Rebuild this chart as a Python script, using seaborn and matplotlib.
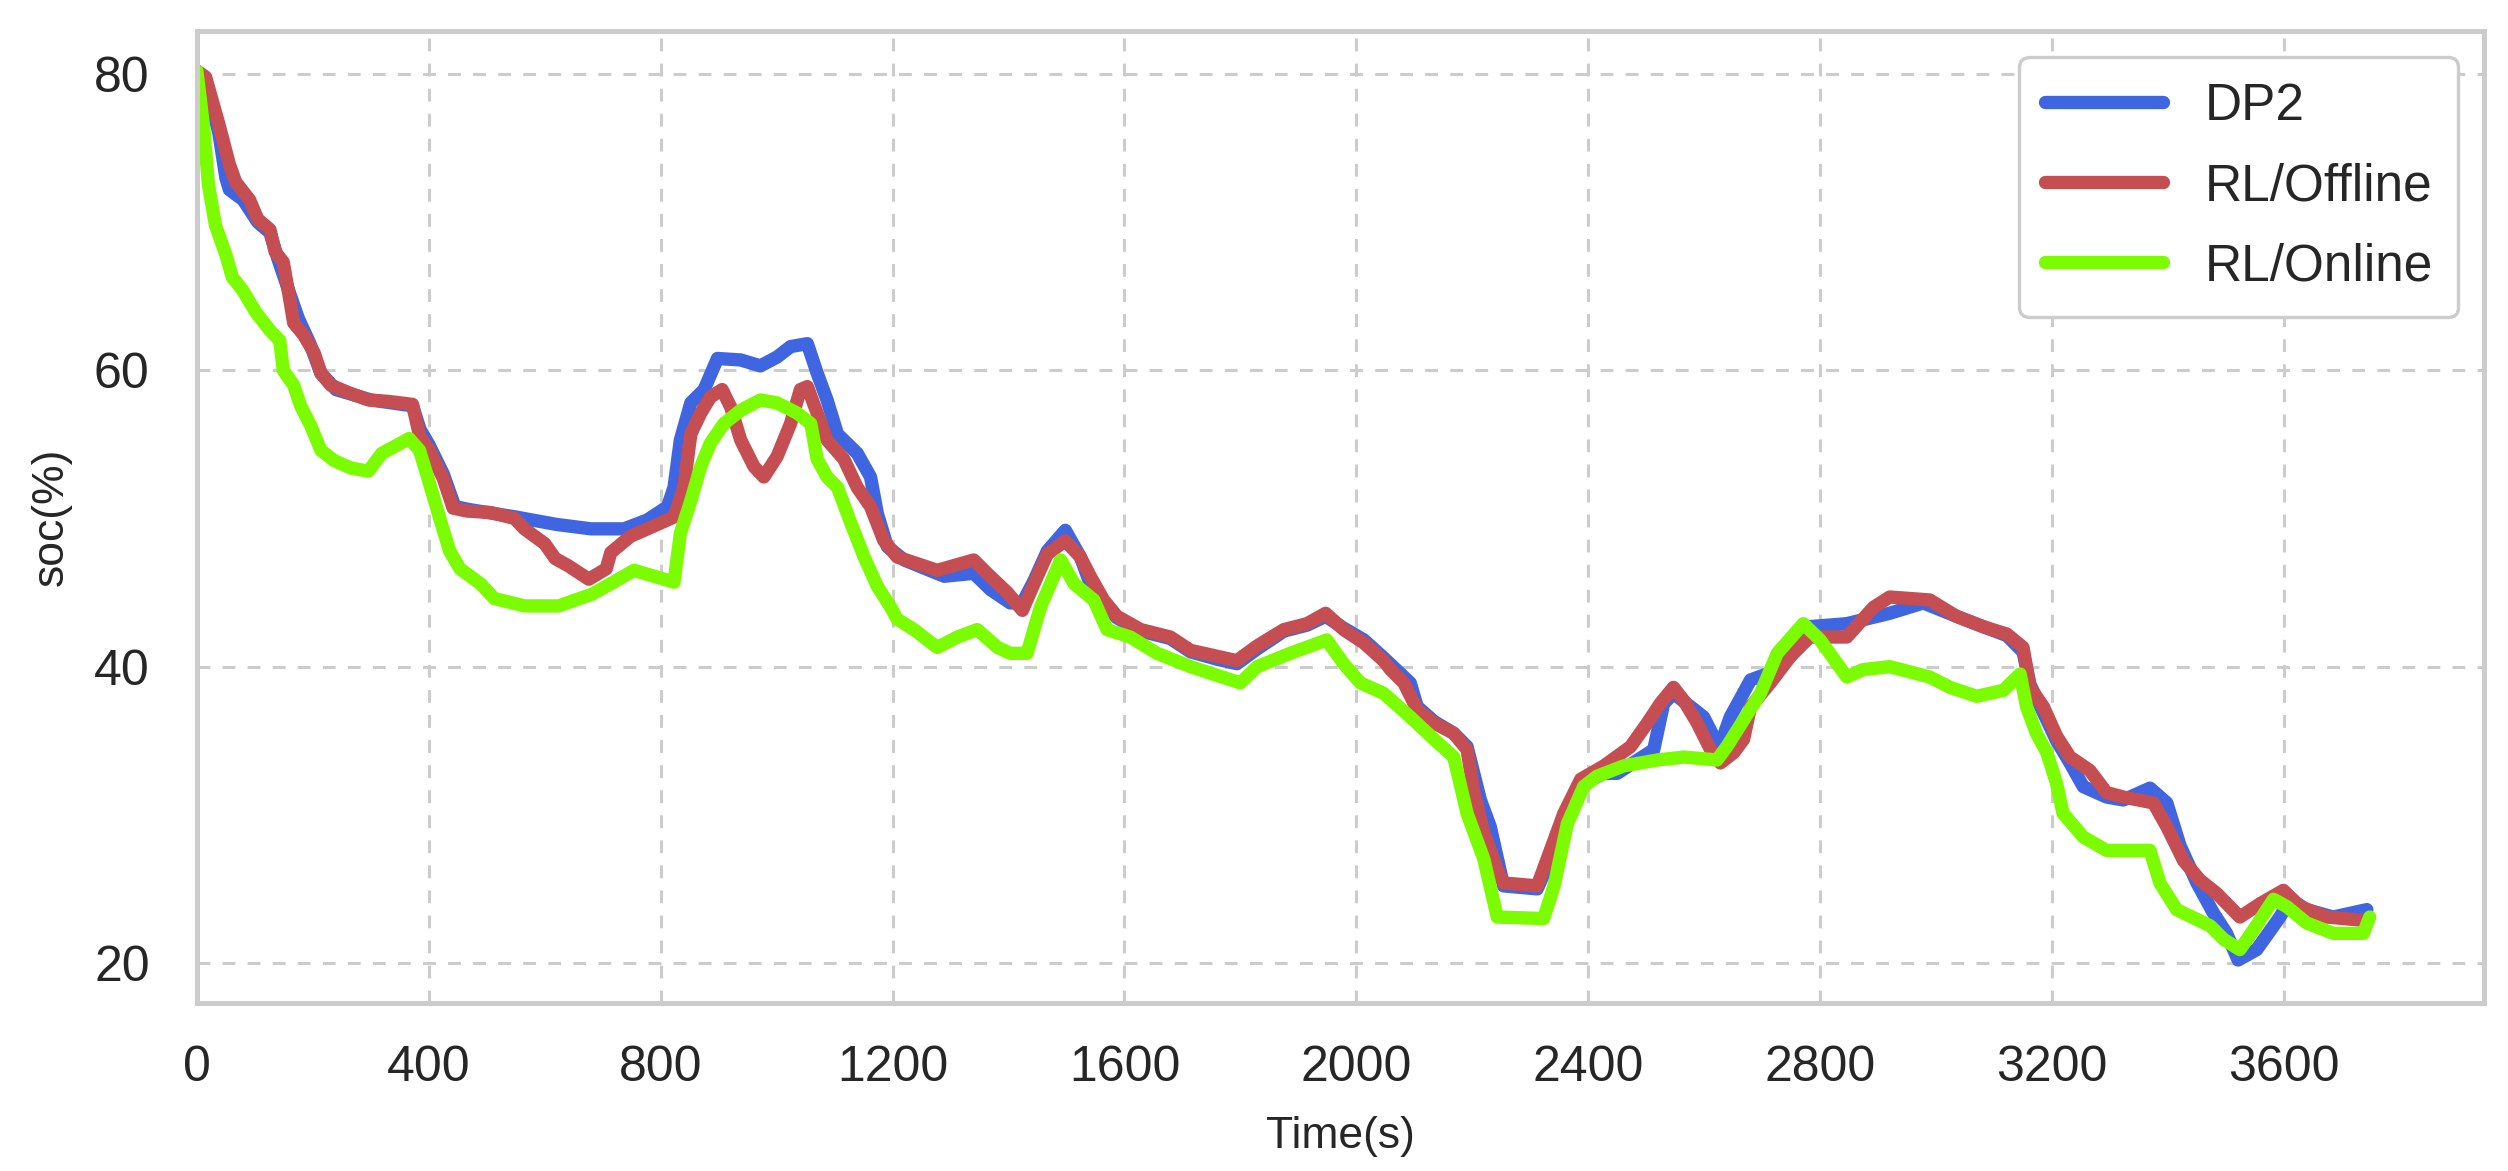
import numpy as np
import pandas as pd
import matplotlib
matplotlib.use('Agg')
import matplotlib.pyplot as plt
import seaborn as sns

# ============================================================
# DATA
# ============================================================

t_dp2 = [0, 15, 38, 50, 56, 80, 105, 126, 140, 160, 175, 195, 214, 240, 300, 372, 385, 400,
         425, 445, 470, 550, 620, 680, 737, 777, 812, 823, 834, 852, 875, 898, 938, 972,
         1001, 1024, 1053, 1070, 1087, 1105, 1139, 1162, 1174, 1191, 1220, 1289, 1340, 1369,
         1403, 1424, 1444, 1467, 1498, 1524, 1541, 1564, 1587, 1628, 1679, 1714, 1760, 1794,
         1829, 1875, 1915, 1947, 1978, 2013, 2047, 2093, 2105, 2134, 2168, 2191, 2214, 2231,
         2254, 2312, 2329, 2358, 2387, 2427, 2450, 2513, 2530, 2547, 2599, 2616, 2625, 2645,
         2680, 2708, 2749, 2782, 2846, 2920, 2978, 3035, 3081, 3122, 3150, 3162, 3185, 3208,
         3231, 3254, 3294, 3323, 3369, 3398, 3421, 3450, 3478, 3501, 3521, 3553, 3593, 3611,
         3639, 3685, 3743]
soc_dp2 = [80.2, 79.5, 76.0, 73.0, 72.2, 71.5, 70.0, 69.3, 67.5, 65.2, 63.5, 61.8, 59.8, 58.7,
           58.0, 57.6, 56.0, 55.0, 53.0, 50.8, 50.6, 50.1, 49.6, 49.3, 49.3, 49.9, 50.8, 52.1,
           55.3, 57.8, 58.7, 60.8, 60.7, 60.3, 60.9, 61.6, 61.8, 59.8, 58.0, 55.7, 54.4, 52.8,
           50.3, 48.1, 47.2, 46.1, 46.3, 45.2, 44.3, 44.3, 45.8, 47.8, 49.2, 47.4, 45.6, 44.2,
           43.3, 42.4, 41.9, 41.0, 40.5, 40.2, 41.2, 42.4, 42.8, 43.4, 42.6, 41.8, 40.6, 38.9,
           37.3, 36.3, 35.5, 34.6, 31.0, 29.2, 25.2, 25.0, 26.5, 29.6, 32.0, 32.8, 32.8, 34.4,
           37.5, 38.2, 36.6, 35.3, 34.4, 36.6, 39.1, 39.5, 40.7, 42.7, 42.9, 43.6, 44.3, 43.4,
           42.7, 42.1, 41.0, 38.8, 36.9, 35.0, 33.5, 31.9, 31.2, 31.0, 31.8, 30.8, 27.9, 25.4,
           23.4, 22.0, 20.2, 20.9, 23.1, 24.3, 23.6, 23.1, 23.6]

t_off = [0, 15, 38, 56, 67, 91, 105, 126, 135, 149, 161, 167, 184, 202, 214, 231, 261, 296,
         331, 372, 384, 401, 425, 442, 466, 507, 548, 565, 600, 618, 641, 676, 706, 714, 748,
         783, 823, 840, 852, 869, 886, 906, 921, 938, 961, 978, 1001, 1024, 1041, 1053, 1070,
         1087, 1116, 1139, 1162, 1185, 1208, 1277, 1340, 1363, 1398, 1424, 1444, 1467, 1498,
         1524, 1541, 1564, 1587, 1628, 1679, 1714, 1760, 1794, 1829, 1875, 1915, 1947, 1978,
         2013, 2047, 2059, 2082, 2105, 2134, 2168, 2191, 2203, 2220, 2243, 2254, 2312, 2329,
         2358, 2387, 2427, 2473, 2502, 2524, 2547, 2565, 2588, 2611, 2628, 2651, 2668, 2680,
         2714, 2749, 2782, 2846, 2892, 2920, 2989, 3035, 3081, 3122, 3150, 3162, 3185, 3208,
         3231, 3265, 3294, 3323, 3375, 3398, 3427, 3455, 3484, 3524, 3559, 3599, 3628, 3674,
         3731]
soc_off = [80.2, 79.8, 76.6, 73.9, 72.7, 71.5, 70.2, 69.5, 68.0, 67.3, 64.6, 63.2, 62.4, 61.2,
           59.8, 59.0, 58.5, 58.0, 57.9, 57.7, 55.6, 54.6, 52.7, 50.7, 50.5, 50.4, 50.0, 49.3,
           48.3, 47.3, 46.8, 45.9, 46.6, 47.7, 48.8, 49.4, 50.1, 52.1, 55.7, 57.1, 58.2, 58.7,
           57.5, 55.3, 53.5, 52.8, 54.2, 56.4, 58.7, 58.9, 57.1, 55.3, 54.0, 52.1, 50.8, 48.5,
           47.4, 46.5, 47.2, 46.3, 45.0, 43.8, 45.6, 47.6, 48.5, 47.4, 46.1, 44.5, 43.4, 42.5,
           42.0, 41.1, 40.7, 40.4, 41.4, 42.5, 42.9, 43.6, 42.5, 41.6, 40.4, 39.8, 38.9, 37.1,
           36.2, 35.5, 34.4, 31.5, 28.8, 26.3, 25.4, 25.2, 27.0, 30.1, 32.4, 33.3, 34.6, 36.2,
           37.5, 38.6, 37.7, 36.2, 34.4, 33.5, 34.2, 35.1, 37.3, 38.9, 40.7, 42.0, 42.0, 44.0,
           44.7, 44.5, 43.4, 42.7, 42.2, 41.3, 38.6, 37.3, 35.3, 33.9, 33.0, 31.5, 31.2, 30.8,
           29.2, 26.9, 25.6, 24.7, 23.1, 24.0, 24.9, 23.8, 23.1, 22.9]

t_on = [0, 12, 20, 32, 50, 61, 79, 102, 126, 143, 149, 167, 179, 196, 214, 237, 266, 296,
        319, 343, 366, 384, 401, 419, 436, 454, 489, 513, 565, 624, 682, 714, 754, 789, 823,
        834, 852, 869, 886, 909, 938, 972, 1001, 1036, 1059, 1070, 1087, 1105, 1128, 1151,
        1174, 1197, 1208, 1237, 1277, 1312, 1346, 1381, 1403, 1432, 1455, 1490, 1513, 1547,
        1570, 1610, 1656, 1714, 1800, 1829, 1886, 1949, 1978, 2007, 2047, 2093, 2134, 2168,
        2191, 2220, 2243, 2323, 2341, 2364, 2392, 2415, 2461, 2519, 2565, 2622, 2639, 2668,
        2697, 2726, 2771, 2800, 2846, 2874, 2920, 2989, 3024, 3070, 3116, 3145, 3156, 3173,
        3191, 3208, 3219, 3254, 3294, 3369, 3386, 3415, 3473, 3496, 3524, 3547, 3582, 3605,
        3639, 3685, 3737, 3748]
soc_on = [80.2, 76.3, 72.5, 69.8, 67.8, 66.3, 65.4, 63.9, 62.7, 62.0, 60.0, 59.0, 57.6, 56.3,
          54.6, 53.9, 53.4, 53.2, 54.4, 54.9, 55.4, 54.6, 52.4, 50.0, 47.8, 46.6, 45.6, 44.6,
          44.1, 44.1, 44.9, 45.6, 46.5, 46.1, 45.7, 49.0, 51.2, 53.5, 55.1, 56.4, 57.3, 58.0,
          57.8, 57.1, 56.4, 54.0, 52.8, 52.1, 49.7, 47.4, 45.4, 44.0, 43.2, 42.5, 41.3, 42.0,
          42.5, 41.3, 40.9, 40.9, 44.0, 47.2, 45.6, 44.5, 42.5, 42.0, 40.9, 40.0, 38.9, 40.0,
          40.9, 41.8, 40.2, 38.9, 38.2, 36.6, 35.1, 33.9, 30.1, 27.0, 23.1, 23.0, 25.2, 29.4,
          31.9, 32.6, 33.3, 33.7, 33.9, 33.7, 34.6, 36.4, 38.2, 40.9, 42.9, 41.8, 39.3, 39.8,
          40.0, 39.3, 38.6, 38.0, 38.4, 39.5, 37.3, 35.5, 34.2, 32.1, 30.1, 28.5, 27.6, 27.6,
          25.4, 23.6, 22.5, 21.6, 20.9, 22.2, 24.3, 23.8, 22.7, 22.0, 22.0, 23.1]

labels = ['DP2', 'RL/Offline', 'RL/Online']
colors = ['#3f66e0', '#c44e52', '#7cfc00']

# ============================================================
# STYLE
# ============================================================

sns.set_theme(style='whitegrid')
plt.rcParams['font.family'] = ['Liberation Sans', 'DejaVu Sans']
plt.rcParams['axes.edgecolor'] = '#cccccc'
plt.rcParams['axes.linewidth'] = 1.8

fig, ax = plt.subplots(figsize=(12.54, 5.855), dpi=200)
fig.subplots_adjust(left=0.0785, right=0.9904, bottom=0.1435, top=0.9735)

# ============================================================
# PLOT
# ============================================================

series = [(t_dp2, soc_dp2), (t_off, soc_off), (t_on, soc_on)]
for (t, s), lab, col in zip(series, labels, colors):
    df = pd.DataFrame({'Time': t, 'soc': s})
    sns.lineplot(data=df, x='Time', y='soc', ax=ax, color=col, lw=4.8,
                 label=lab, sort=False, estimator=None,
                 solid_joinstyle='round', solid_capstyle='round')

ax.set_xlim(0, 3945)
ax.set_ylim(17.3, 82.9)
ax.set_xticks(np.arange(0, 3601, 400))
ax.set_yticks([20, 40, 60, 80])

ax.grid(True, color='#cccccc', linestyle=(0, (4.2, 4.0)), linewidth=1.1)
ax.tick_params(axis='both', labelsize=18, length=0, colors='#262626')
ax.tick_params(axis='y', pad=17)
ax.tick_params(axis='x', pad=15)

ax.set_xlabel('Time(s)', fontsize=16, labelpad=9, color='#262626')
ax.set_ylabel('soc(%)', fontsize=16, labelpad=8, color='#262626')

leg = ax.legend(loc='upper right', fontsize=18.5, handlelength=2.3,
                labelspacing=0.6, borderpad=0.5,
                frameon=True, fancybox=True, framealpha=1)
leg.get_frame().set_edgecolor('#cccccc')
leg.get_frame().set_linewidth(1.2)

plt.savefig('out.png', dpi=200)
